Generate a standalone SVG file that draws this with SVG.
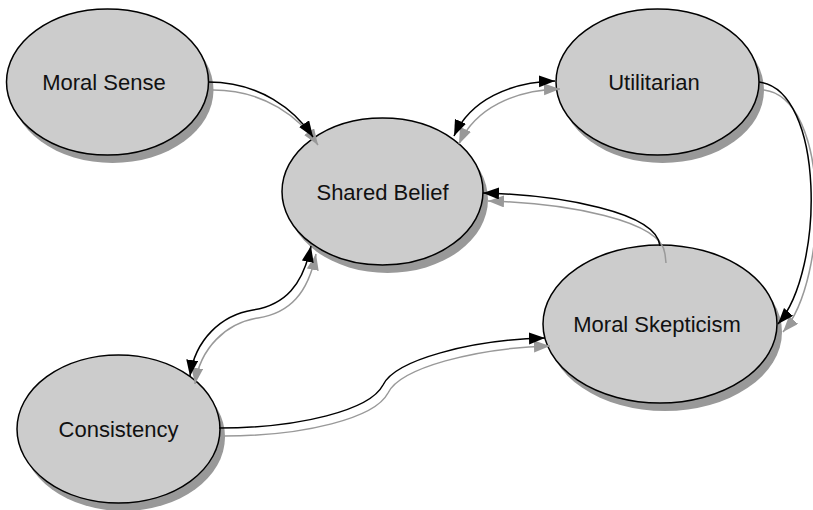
<svg xmlns="http://www.w3.org/2000/svg" width="813" height="510" viewBox="0 0 813 510">
<defs>
<style>
.shadow{fill:#999999;}
.node{fill:#cccccc;stroke:#000000;stroke-width:1.5;}
.label{font-family:"Liberation Sans",Arial,Helvetica,sans-serif;font-size:22px;fill:#111111;text-anchor:middle;}
.edge{fill:none;stroke:#000000;stroke-width:1.5;}
.edge-sh{fill:none;stroke:#999999;stroke-width:1.5;}
</style>
<marker id="ah" markerUnits="userSpaceOnUse" markerWidth="17" markerHeight="13" refX="16" refY="6" orient="auto-start-reverse" viewBox="0 0 17 13">
<path d="M0,0 L16,6 L0,12 z" fill="#000000"/>
</marker>
<marker id="ahs" markerUnits="userSpaceOnUse" markerWidth="17" markerHeight="13" refX="16" refY="6" orient="auto-start-reverse" viewBox="0 0 17 13">
<path d="M0,0 L16,6 L0,12 z" fill="#999999"/>
</marker>
</defs>
<rect width="813" height="510" fill="#ffffff"/>
<g id="node-moral-sense">
<ellipse class="shadow" cx="112.5" cy="90" rx="101" ry="73"/>
<ellipse class="node" cx="107.5" cy="82" rx="101" ry="73"/>
<text class="label" x="104" y="90">Moral Sense</text>
</g>
<g id="node-shared-belief">
<ellipse class="shadow" cx="387.5" cy="199.5" rx="100.5" ry="73.5"/>
<ellipse class="node" cx="382.5" cy="191.5" rx="100.5" ry="73.5"/>
<text class="label" x="382.5" y="200">Shared Belief</text>
</g>
<g id="node-utilitarian">
<ellipse class="shadow" cx="662.5" cy="90" rx="101.5" ry="73"/>
<ellipse class="node" cx="657.5" cy="82" rx="101.5" ry="73"/>
<text class="label" x="654" y="90">Utilitarian</text>
</g>
<g id="node-moral-skepticism">
<ellipse class="shadow" cx="665" cy="332" rx="117" ry="79"/>
<ellipse class="node" cx="660" cy="324" rx="117" ry="79"/>
<text class="label" x="657" y="332">Moral Skepticism</text>
</g>
<g id="node-consistency">
<ellipse class="shadow" cx="123.5" cy="437" rx="101.5" ry="74"/>
<ellipse class="node" cx="118.5" cy="429" rx="101.5" ry="74"/>
<text class="label" x="118.5" y="437">Consistency</text>
</g>
<g id="connectors">
<g id="connector-shadows" transform="translate(5,8)">
<path class="edge-sh" d="M208,82 C260,82 295,110 313,137" marker-end="url(#ahs)"/>
<path class="edge-sh" d="M454,136 C470,100 510,82 555,81" marker-start="url(#ahs)" marker-end="url(#ahs)"/>
<path class="edge-sh" d="M661,255 L660,246 C657,212 560,195 483,193" marker-end="url(#ahs)"/>
<path class="edge-sh" d="M759,82 C825,90 825,270 778,324" marker-end="url(#ahs)"/>
<path class="edge-sh" d="M311,246 C303,285 285,305 253,310 C221,315 195,340 190,376" marker-start="url(#ahs)" marker-end="url(#ahs)"/>
<path class="edge-sh" d="M219,428 C300,428 370,410 383,385 C395,360 470,340 545,338" marker-end="url(#ahs)"/>
</g>
<path class="edge" d="M208,82 C260,82 295,110 313,137" marker-end="url(#ah)"/>
<path class="edge" d="M454,136 C470,100 510,82 555,81" marker-start="url(#ah)" marker-end="url(#ah)"/>
<path class="edge" d="M660,246 C657,212 560,195 483,193" marker-end="url(#ah)"/>
<path class="edge" d="M759,82 C825,90 825,270 778,324" marker-end="url(#ah)"/>
<path class="edge" d="M311,246 C303,285 285,305 253,310 C221,315 195,340 190,376" marker-start="url(#ah)" marker-end="url(#ah)"/>
<path class="edge" d="M219,428 C300,428 370,410 383,385 C395,360 470,340 545,338" marker-end="url(#ah)"/>
</g>
</svg>
